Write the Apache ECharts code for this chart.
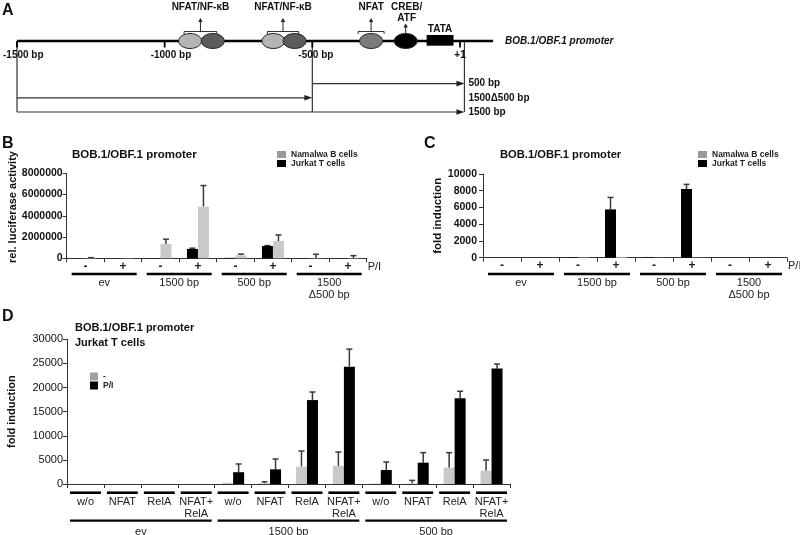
<!DOCTYPE html>
<html><head><meta charset="utf-8">
<script src="https://cdn.jsdelivr.net/npm/echarts/dist/echarts.min.js"></script>
<style>html,body{margin:0;padding:0;background:#fff}#c{width:800px;height:535px}</style>
</head><body><div id="c"></div>
<script>
// ---------------- Panel A (positions in bp relative to +1) ----------------
const promoterName = 'BOB.1/OBF.1 promoter';
const promoterSpan = [-1500, 112];
const axisTicksBp = [-1500, -1000, -500, 0];
const axisTickLabels = ['-1500 bp', '-1000 bp', '-500 bp', '+1'];
const siteNames = ['NFAT/NF-κB', 'NFAT/NF-κB', 'NFAT', 'CREB/\nATF'];
const siteElements = [[-914, -837], [-632, -560], [-301], [-184]];
const siteShades = [['#b4b4b4', '#5c5c5c'], ['#b4b4b4', '#5c5c5c'], ['#7a7a7a'], ['#000000']];
const siteBracket = [true, true, true, false];
const tataName = 'TATA';
const tataBox = [-113, -22];
const constructNames = ['500 bp', '1500Δ500 bp', '1500 bp'];
const constructFrom = [-500, -1500, -1500];
const constructTo = [15, -500, 15];

// ---------------- Panel B ----------------
const bCats = ['-', '+', '-', '+', '-', '+', '-', '+'];
const bGroupNames = ['ev', '1500 bp', '500 bp', '1500\nΔ500 bp'];
const bGroupFirst = [0, 2, 4, 6];
const bGroupLast = [1, 3, 5, 7];
const bJurkat = [0, 0, 20000, 880000, 40000, 1160000, 10000, 10000];
const bJurkatErr = [null, null, null, 950000, null, 1200000, null, null];
const bNamalwa = [30000, 20000, 1350000, 4860000, 280000, 1630000, 30000, 30000];
const bNamalwaErr = [60000, null, 1800000, 6850000, 400000, 2200000, 380000, 250000];

// ---------------- Panel C ----------------
const cCats = ['-', '+', '-', '+', '-', '+', '-', '+'];
const cGroupNames = ['ev', '1500 bp', '500 bp', '1500\nΔ500 bp'];
const cJurkat = [0, 0, 60, 5770, 60, 8210, 0, 0];
const cJurkatErr = [null, null, null, 7200, null, 8760, null, null];
const cNamalwa = [0, 0, 50, 100, 20, 20, 0, 0];
const cNamalwaErr = [null, null, null, null, null, null, null, null];

// ---------------- Panel D ----------------
const dCats = ['w/o', 'NFAT', 'RelA', 'NFAT+\nRelA', 'w/o', 'NFAT', 'RelA', 'NFAT+\nRelA', 'w/o', 'NFAT', 'RelA', 'NFAT+\nRelA'];
const dGroupNames = ['ev', '1500 bp', '500 bp'];
const dGroupFirst = [0, 4, 8];
const dGroupLast = [3, 7, 11];
const dMinus = [0, 0, 0, 0, 250, 150, 3590, 3730, 100, 100, 3390, 2760];
const dMinusErr = [null, null, null, null, null, 450, 6840, 6630, null, 750, 6500, 4980];
const dPI = [0, 0, 0, 0, 2450, 3040, 17400, 24300, 2900, 4420, 17770, 23970];
const dPIErr = [null, null, null, null, 4150, 5180, 19070, 27970, 4560, 6500, 19230, 24870];

const yTicksB = {min: 0, max: 8000000, interval: 2000000};
const yTicksC = {min: 0, max: 10000, interval: 2000};
const yTicksD = {min: 0, max: 30000, interval: 5000};

// ---------------- styles ----------------
const FONT = '"Liberation Sans", Arial, Helvetica, sans-serif';
const AX = '#333';
const GRAY = '#c9c9c9';
const BAR_W = 11;

const chart = echarts.init(document.getElementById('c'), null, {renderer: 'canvas'});

function errData(vals, errs, side) {
  const out = [];
  vals.forEach((v, i) => { if (errs[i] != null) out.push([i, v, errs[i], side]); });
  return out;
}
function errRender(params, api) {
  const i = api.value(0), v = api.value(1), u = api.value(2), side = api.value(3);
  const x = api.coord([i, 0])[0] + side * BAR_W / 2;
  const yv = api.coord([i, v])[1], yu = api.coord([i, u])[1];
  return {type: 'group', children: [
    {type: 'line', shape: {x1: x, y1: yv, x2: x, y2: yu}, style: {stroke: '#3a3a3a', lineWidth: 1.5}},
    {type: 'line', shape: {x1: x - 3, y1: yu, x2: x + 3, y2: yu}, style: {stroke: '#3a3a3a', lineWidth: 1.5}}
  ]};
}
function makeDecor(names, lineOff, textOff, inset, lw) {
  return function (params, api) {
    const s = api.value(0), e = api.value(2), k = api.value(3);
    const bw = api.size([1, 0])[0];
    const p0 = api.coord([s, 0]), p1 = api.coord([e, 0]);
    const xl = p0[0] - bw / 2 + inset, xr = p1[0] + bw / 2 - inset, y0 = p0[1];
    const ch = [{type: 'line', shape: {x1: xl, y1: y0 + lineOff, x2: xr, y2: y0 + lineOff}, style: {stroke: '#000', lineWidth: lw}}];
    if (names) ch.push({type: 'text', x: (xl + xr) / 2, y: y0 + textOff,
      style: {text: names[k], fill: '#222', font: '11px ' + FONT, align: 'center', verticalAlign: 'top', lineHeight: 11.5}});
    return {type: 'group', children: ch};
  };
}
function decorData(first, last) { return first.map((s, k) => [s, 0, last[k], k]); }

function catAxis(gi, cats, labelOpts, name) {
  return {gridIndex: gi, type: 'category', data: cats,
    axisLine: {show: true, lineStyle: {color: AX, width: 1}},
    axisTick: {show: true, interval: 0, length: 4, inside: false, lineStyle: {color: AX}},
    axisLabel: Object.assign({interval: 0, color: '#222', fontFamily: FONT}, labelOpts),
    splitLine: {show: false},
    name: name || '', nameLocation: 'end', nameGap: 1,
    nameTextStyle: {fontSize: 11, color: '#222', align: 'left', verticalAlign: 'top', padding: [3, 0, 0, 0], fontFamily: FONT}
  };
}
function valAxis(gi, ticks, labelOpts, extra) {
  return Object.assign({gridIndex: gi, type: 'value', min: ticks.min, max: ticks.max, interval: ticks.interval,
    axisLine: {show: true, lineStyle: {color: AX, width: 1}},
    axisTick: {show: true, length: 4, inside: false, lineStyle: {color: AX}},
    axisLabel: Object.assign({color: '#111', fontFamily: FONT, formatter: v => String(v)}, labelOpts),
    splitLine: {show: false}}, extra || {});
}
function legendOpts(left, top, items, colors, iw, ih, fs) {
  return {left: left, top: top, orient: 'vertical', padding: 0, itemGap: 0, itemWidth: iw, itemHeight: ih,
    selectedMode: false,
    data: items.map((n, k) => ({name: n, icon: 'rect', itemStyle: {color: colors[k]}})),
    textStyle: {fontSize: fs, fontWeight: 'bold', color: '#222', fontFamily: FONT}};
}
function txt(x, y, text, font, extra) {
  return Object.assign({type: 'text', x: x, y: y, silent: true,
    style: {text: text, font: font, fill: '#111', align: 'left', verticalAlign: 'middle', textAlign: 'left', textVerticalAlign: 'middle'}}, extra || {});
}

// ---------- panel A renderers ----------
function renderMain(params, api) {
  const a = api.coord([api.value(0), 0]), b = api.coord([api.value(2), 0]);
  return {type: 'group', children: [
    {type: 'line', shape: {x1: a[0], y1: a[1], x2: b[0], y2: b[1]}, style: {stroke: '#000', lineWidth: 2.6}},
    {type: 'text', x: b[0] + 12, y: b[1], style: {text: promoterName, font: 'italic bold 10px ' + FONT, fill: '#111', align: 'left', verticalAlign: 'middle'}}
  ]};
}
function renderTicks(params, api) {
  const k = api.value(2);
  const p = api.coord([api.value(0), 0]);
  const ly = api.coord([api.value(0), 1])[1];
  const lab = axisTickLabels[k];
  const centered = lab.indexOf('bp') < 0;
  return {type: 'group', children: [
    {type: 'line', shape: {x1: p[0], y1: p[1], x2: p[0], y2: p[1] + 6.5}, style: {stroke: '#000', lineWidth: 1.8}},
    {type: 'text', x: centered ? p[0] : p[0] - 14, y: ly, style: {text: lab, font: 'bold 10px ' + FONT, fill: '#111', align: centered ? 'center' : 'left', verticalAlign: 'middle'}}
  ]};
}
function renderSites(params, api) {
  const i = api.value(2);
  const els = siteElements[i];
  const pts = els.map(b => api.coord([b, 0]));
  const y = pts[0][1];
  const ch = [];
  pts.forEach((p, k) => ch.push({type: 'ellipse', shape: {cx: p[0], cy: y, rx: 11.5, ry: 7.5},
    style: {fill: siteShades[i][k], stroke: '#222', lineWidth: 1}}));
  let ax, ay0, atop;
  if (siteBracket[i]) {
    let bl, br;
    if (pts.length > 1) { bl = pts[0][0] - 6; br = pts[pts.length - 1][0] + 4; }
    else { bl = pts[0][0] - 13; br = pts[0][0] + 13; }
    const by = y - 9.5;
    ch.push({type: 'polyline', shape: {points: [[bl, by + 2.5], [bl, by], [br, by], [br, by + 2.5]]}, style: {stroke: '#333', lineWidth: 1, fill: null}});
    ax = (bl + br) / 2; ay0 = by; atop = y - 23;
    ch.push({type: 'text', x: ax, y: y - 33.5, style: {text: siteNames[i], font: 'bold 10px ' + FONT, fill: '#111', align: 'center', verticalAlign: 'middle'}});
  } else {
    ax = pts[0][0]; ay0 = y - 8; atop = y - 17.5;
    ch.push({type: 'text', x: ax + 1, y: atop + 1, style: {text: siteNames[i], font: 'bold 10px ' + FONT, fill: '#111', align: 'center', verticalAlign: 'bottom', lineHeight: 11.6}});
  }
  ch.push({type: 'line', shape: {x1: ax, y1: ay0, x2: ax, y2: atop + 3}, style: {stroke: '#222', lineWidth: 1}});
  ch.push({type: 'polygon', shape: {points: [[ax - 2.2, atop + 4], [ax + 2.2, atop + 4], [ax, atop]]}, style: {fill: '#222'}});
  return {type: 'group', children: ch};
}
function renderTata(params, api) {
  const a = api.coord([api.value(0), 0]), b = api.coord([api.value(2), 0]);
  return {type: 'group', children: [
    {type: 'rect', shape: {x: a[0], y: a[1] - 6, width: b[0] - a[0], height: 10.7}, style: {fill: '#000'}},
    {type: 'text', x: (a[0] + b[0]) / 2, y: a[1] - 12, style: {text: tataName, font: 'bold 10px ' + FONT, fill: '#111', align: 'center', verticalAlign: 'middle'}}
  ]};
}
const labelEnd = Math.max.apply(null, constructTo);
const lastRow = constructNames.length + 2;
function renderConstructs(params, api) {
  const k = api.value(3), row = api.value(1);
  const a = api.coord([api.value(0), row]), b = api.coord([api.value(2), row]);
  const lx = api.coord([labelEnd, row])[0] + 4;
  return {type: 'group', children: [
    {type: 'line', shape: {x1: a[0], y1: a[1], x2: b[0] - 7, y2: b[1]}, style: {stroke: '#333', lineWidth: 1.2}},
    {type: 'polygon', shape: {points: [[b[0] - 8, b[1] - 2.8], [b[0] - 8, b[1] + 2.8], [b[0], b[1]]]}, style: {fill: '#222'}},
    {type: 'text', x: lx, y: b[1], style: {text: constructNames[k], font: 'bold 10px ' + FONT, fill: '#111', align: 'left', verticalAlign: 'middle'}}
  ]};
}
const boundaries = Array.from(new Set(constructFrom.concat(constructTo)));
function renderBoundaries(params, api) {
  const a = api.coord([api.value(0), 0]), b = api.coord([api.value(0), lastRow]);
  return {type: 'line', shape: {x1: a[0], y1: a[1] + 1, x2: b[0], y2: b[1]}, style: {stroke: '#333', lineWidth: 1.2}};
}

const option = {
  animation: false,
  backgroundColor: '#fff',
  textStyle: {fontFamily: FONT},
  grid: [
    {left: 17, top: 41, width: 443, height: 71, outerBoundsMode: 'none'},
    {left: 66.7, top: 173.3, width: 300, height: 85, outerBoundsMode: 'none'},
    {left: 483, top: 174, width: 304, height: 83.7, outerBoundsMode: 'none'},
    {left: 67, top: 339.3, width: 443, height: 144.7, outerBoundsMode: 'none'}
  ],
  xAxis: [
    {gridIndex: 0, type: 'value', min: -1500, max: 0, show: false},
    catAxis(1, bCats, {margin: 2, fontSize: 12, fontWeight: 'bold'}, 'P/I'),
    catAxis(2, cCats, {margin: 2, fontSize: 12, fontWeight: 'bold'}, 'P/I'),
    catAxis(3, dCats, {margin: 12, fontSize: 11, lineHeight: 12})
  ],
  yAxis: [
    {gridIndex: 0, type: 'value', min: 0, max: lastRow, inverse: true, show: false},
    valAxis(1, yTicksB, {margin: 4, fontSize: 10.5, fontWeight: 'bold'}),
    valAxis(2, yTicksC, {margin: 6, fontSize: 10.5, fontWeight: 'bold'},
      {name: 'fold induction', nameLocation: 'middle', nameGap: 38, nameRotate: 90, nameTextStyle: {fontSize: 11.5, fontWeight: 'bold', color: '#111', fontFamily: FONT}}),
    valAxis(3, yTicksD, {margin: 4, fontSize: 11},
      {name: 'fold induction', nameLocation: 'middle', nameGap: 50, nameRotate: 90, nameTextStyle: {fontSize: 11, fontWeight: 'bold', color: '#111', fontFamily: FONT}})
  ],
  legend: [
    legendOpts(277, 150, ['Namalwa B cells', 'Jurkat T cells'], ['#9a9a9a', '#000'], 9, 7, 8.5),
    legendOpts(698, 150, ['Namalwa B cells', 'Jurkat T cells'], ['#9a9a9a', '#000'], 9, 7, 8.5),
    legendOpts(90, 372, ['-', 'P/I'], ['#a0a0a0', '#000'], 8, 8, 8.5)
  ],
  graphic: [
    txt(2, 11, 'A', 'bold 16px ' + FONT),
    txt(2, 144, 'B', 'bold 16px ' + FONT),
    txt(424, 144, 'C', 'bold 16px ' + FONT),
    txt(2, 317, 'D', 'bold 16px ' + FONT),
    txt(72, 155, promoterName, 'bold 11.5px ' + FONT),
    txt(500, 155, promoterName, 'bold 11.2px ' + FONT),
    txt(75, 328, promoterName, 'bold 11px ' + FONT),
    txt(75, 343, 'Jurkat T cells', 'bold 11px ' + FONT),
    {type: 'text', x: 13, y: 207, rotation: Math.PI / 2, silent: true,
      style: {text: 'rel. luciferase activity', font: 'bold 11px ' + FONT, fill: '#111', align: 'center', verticalAlign: 'middle', textAlign: 'center', textVerticalAlign: 'middle'}}
  ],
  series: [
    // Panel A
    {type: 'custom', xAxisIndex: 0, yAxisIndex: 0, clip: false, silent: true, renderItem: renderMain,
      data: [[promoterSpan[0], 0, promoterSpan[1], 0]]},
    {type: 'custom', xAxisIndex: 0, yAxisIndex: 0, clip: false, silent: true, renderItem: renderBoundaries,
      data: boundaries.map(b => [b, 0])},
    {type: 'custom', xAxisIndex: 0, yAxisIndex: 0, clip: false, silent: true, renderItem: renderTicks,
      data: axisTicksBp.map((b, i) => [b, 0, i])},
    {type: 'custom', xAxisIndex: 0, yAxisIndex: 0, clip: false, silent: true, renderItem: renderSites,
      data: siteElements.map((e, i) => [e[0], 0, i])},
    {type: 'custom', xAxisIndex: 0, yAxisIndex: 0, clip: false, silent: true, renderItem: renderTata,
      data: [[tataBox[0], 0, tataBox[1]]]},
    {type: 'custom', xAxisIndex: 0, yAxisIndex: 0, clip: false, silent: true, renderItem: renderConstructs,
      data: constructFrom.map((f, k) => [f, k + 3, constructTo[k], k])},
    // Panel B
    {name: 'Jurkat T cells', type: 'bar', xAxisIndex: 1, yAxisIndex: 1, data: bJurkat, barWidth: BAR_W, barGap: '0%', itemStyle: {color: '#000'}, silent: true},
    {name: 'Namalwa B cells', type: 'bar', xAxisIndex: 1, yAxisIndex: 1, data: bNamalwa, barWidth: BAR_W, barGap: '0%', itemStyle: {color: GRAY}, silent: true},
    {type: 'custom', xAxisIndex: 1, yAxisIndex: 1, clip: false, silent: true, renderItem: errRender,
      data: errData(bJurkat, bJurkatErr, -1).concat(errData(bNamalwa, bNamalwaErr, 1))},
    {type: 'custom', xAxisIndex: 1, yAxisIndex: 1, clip: false, silent: true, renderItem: makeDecor(bGroupNames, 15.7, 19.3, 5, 2.6),
      data: decorData(bGroupFirst, bGroupLast)},
    // Panel C
    {name: 'Jurkat T cells', type: 'bar', xAxisIndex: 2, yAxisIndex: 2, data: cJurkat, barWidth: BAR_W, barGap: '0%', itemStyle: {color: '#000'}, silent: true},
    {name: 'Namalwa B cells', type: 'bar', xAxisIndex: 2, yAxisIndex: 2, data: cNamalwa, barWidth: BAR_W, barGap: '0%', itemStyle: {color: GRAY}, silent: true},
    {type: 'custom', xAxisIndex: 2, yAxisIndex: 2, clip: false, silent: true, renderItem: errRender,
      data: errData(cJurkat, cJurkatErr, -1).concat(errData(cNamalwa, cNamalwaErr, 1))},
    {type: 'custom', xAxisIndex: 2, yAxisIndex: 2, clip: false, silent: true, renderItem: makeDecor(cGroupNames, 16.3, 19.8, 5, 2.6),
      data: decorData(bGroupFirst, bGroupLast)},
    // Panel D
    {name: '-', type: 'bar', xAxisIndex: 3, yAxisIndex: 3, data: dMinus, barWidth: BAR_W, barGap: '0%', itemStyle: {color: GRAY}, silent: true},
    {name: 'P/I', type: 'bar', xAxisIndex: 3, yAxisIndex: 3, data: dPI, barWidth: BAR_W, barGap: '0%', itemStyle: {color: '#000'}, silent: true},
    {type: 'custom', xAxisIndex: 3, yAxisIndex: 3, clip: false, silent: true, renderItem: errRender,
      data: errData(dMinus, dMinusErr, -1).concat(errData(dPI, dPIErr, 1))},
    {type: 'custom', xAxisIndex: 3, yAxisIndex: 3, clip: false, silent: true, renderItem: makeDecor(null, 8.7, 0, 3, 2.6),
      data: dCats.map((c, i) => [i, 0, i, i])},
    {type: 'custom', xAxisIndex: 3, yAxisIndex: 3, clip: false, silent: true, renderItem: makeDecor(dGroupNames, 36.7, 42, 3, 2.2),
      data: decorData(dGroupFirst, dGroupLast)}
  ]
};
chart.setOption(option);
</script>
</body></html>
